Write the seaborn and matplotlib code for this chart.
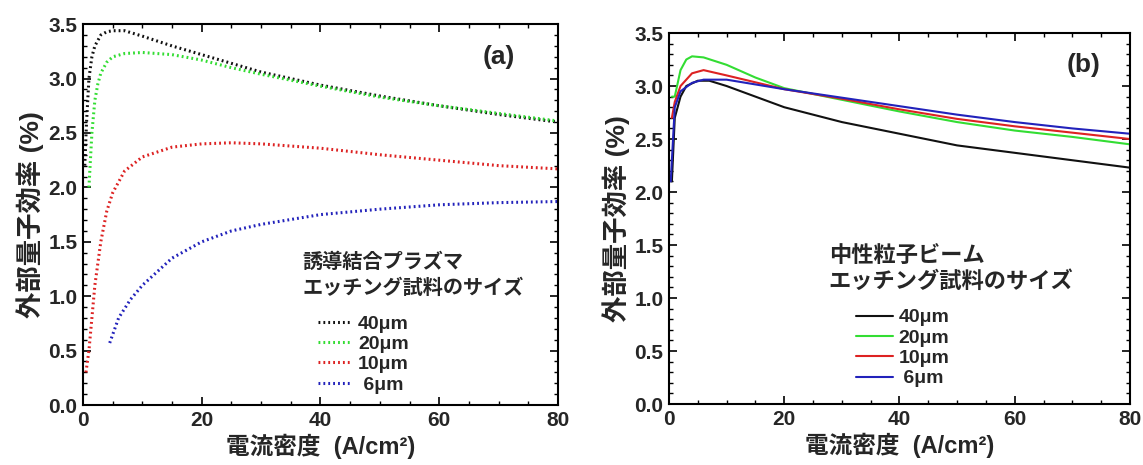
import numpy as np
import pandas as pd
import matplotlib
matplotlib.use("Agg")
import matplotlib.pyplot as plt
import seaborn as sns
from matplotlib.ticker import MultipleLocator
from matplotlib.lines import Line2D

sns.set_theme(style="white")
plt.rcParams['font.family'] = ['Liberation Sans', 'Noto Sans CJK JP', 'DejaVu Sans']
plt.rcParams['font.weight'] = 'bold'

sizes = ["40μm", "20μm", "10μm", "6μm"]
colors = ["#111111", "#33dd33", "#dd2222", "#2222bb"]

# Panel (a): inductively coupled plasma etching
a_x40 = [0.3, 0.6, 1, 1.5, 2, 3, 4, 5, 7, 10, 15, 20, 30, 40, 50, 60, 70, 80]
a_y40 = [2.2, 2.6, 3.0, 3.2, 3.3, 3.4, 3.43, 3.44, 3.44, 3.39, 3.3, 3.22, 3.06, 2.94, 2.84, 2.75, 2.67, 2.6]
a_x20 = [1, 1.5, 2, 2.5, 3, 4, 5, 7, 10, 15, 20, 25, 30, 40, 50, 60, 70, 80]
a_y20 = [2.0, 2.5, 2.8, 2.95, 3.05, 3.15, 3.2, 3.23, 3.24, 3.22, 3.17, 3.1, 3.04, 2.93, 2.83, 2.75, 2.68, 2.61]
a_x10 = [0.5, 1, 1.5, 2, 3, 4, 5, 7, 10, 15, 20, 25, 30, 40, 50, 60, 70, 80]
a_y10 = [0.3, 0.5, 0.8, 1.1, 1.5, 1.78, 1.95, 2.15, 2.28, 2.37, 2.4, 2.41, 2.4, 2.36, 2.3, 2.25, 2.2, 2.17]
a_x6 = [4.5, 6, 8, 10, 15, 20, 25, 30, 40, 50, 60, 70, 80]
a_y6 = [0.57, 0.8, 0.97, 1.1, 1.35, 1.5, 1.6, 1.66, 1.75, 1.8, 1.84, 1.86, 1.87]

# Panel (b): neutral beam etching
b_x40 = [0.5, 1, 2, 3, 5, 7, 10, 20, 30, 40, 50, 60, 70, 80]
b_y40 = [2.1, 2.7, 2.9, 3.0, 3.05, 3.05, 3.0, 2.8, 2.66, 2.55, 2.44, 2.37, 2.3, 2.23]
b_x20 = [0.5, 1, 2, 3, 4, 6, 10, 15, 20, 30, 40, 50, 60, 70, 80]
b_y20 = [2.9, 2.9, 3.15, 3.25, 3.28, 3.27, 3.2, 3.08, 2.98, 2.87, 2.76, 2.66, 2.58, 2.52, 2.45]
b_x10 = [0.5, 1, 2, 4, 6, 10, 20, 30, 40, 50, 60, 70, 80]
b_y10 = [2.7, 2.85, 3.0, 3.12, 3.15, 3.1, 2.97, 2.88, 2.78, 2.69, 2.62, 2.56, 2.5]
b_x6 = [0.3, 0.7, 1, 2, 4, 6, 10, 20, 30, 40, 50, 60, 70, 80]
b_y6 = [2.1, 2.5, 2.8, 2.95, 3.03, 3.06, 3.06, 2.97, 2.89, 2.81, 2.73, 2.66, 2.6, 2.55]

xticks = [0, 20, 40, 60, 80]
yticks = [0.0, 0.5, 1.0, 1.5, 2.0, 2.5, 3.0, 3.5]
legend_title_a = ["誘導結合プラズマ", "エッチング試料のサイズ"]
legend_title_b = ["中性粒子ビーム", "エッチング試料のサイズ"]
xlabel = "電流密度  (A/cm²)"
ylabel = "外部量子効率 (%)"


def long_df(xs, ys):
    frames = []
    for s, x, y in zip(sizes, xs, ys):
        frames.append(pd.DataFrame({"x": x, "y": y, "size": s}))
    return pd.concat(frames, ignore_index=True)


df_a = long_df([a_x40, a_x20, a_x10, a_x6], [a_y40, a_y20, a_y10, a_y6])
df_b = long_df([b_x40, b_x20, b_x10, b_x6], [b_y40, b_y20, b_y10, b_y6])

fig = plt.figure(figsize=(11.43, 4.65), dpi=100)
ax_a = fig.add_axes([0.0726, 0.129, 0.4156, 0.819])
ax_b = fig.add_axes([0.5853, 0.131, 0.4033, 0.798])

dots = (0, (0.6, 1.0))
pal = dict(zip(sizes, colors))
sns.lineplot(data=df_a, x="x", y="y", hue="size", palette=pal, hue_order=sizes,
             ax=ax_a, linewidth=2.2, linestyle=dots, legend=False)
sns.lineplot(data=df_b, x="x", y="y", hue="size", palette=pal, hue_order=sizes,
             ax=ax_b, linewidth=1.5, legend=False)

for ax in (ax_a, ax_b):
    ax.set_xlim(0, 80)
    ax.set_ylim(0, 3.5)
    ax.set_xticks(xticks)
    ax.set_xticklabels([str(t) for t in xticks])
    ax.set_yticks(yticks)
    ax.set_yticklabels([f"{t:.1f}" for t in yticks])
    ax.xaxis.set_minor_locator(MultipleLocator(5))
    ax.yaxis.set_minor_locator(MultipleLocator(0.1))
    ax.tick_params(which="both", direction="in", top=True, right=True,
                   bottom=True, left=True, color="black")
    ax.tick_params(which="major", length=6, width=1.2, labelsize=15, pad=4)
    ax.tick_params(which="minor", length=3, width=1.0)
    for sp in ax.spines.values():
        sp.set_color("black")
        sp.set_linewidth(1.5)
    ax.set_xlabel(xlabel, fontsize=17, fontweight="bold", labelpad=3)
    ax.set_ylabel(ylabel, fontsize=19, fontweight="bold", labelpad=3)
    for lab in ax.get_xticklabels() + ax.get_yticklabels():
        lab.set_fontweight("bold")

ax_a.text(70, 3.2, "(a)", fontsize=19, fontweight="bold", ha="center", va="center")
ax_b.text(72, 3.2, "(b)", fontsize=19, fontweight="bold", ha="center", va="center")

# legend titles
for ax, lines, x0, ys, fs in ((ax_a, legend_title_a, 37, (1.31, 1.07), 14.5),
                              (ax_b, legend_title_b, 27.7, (1.39, 1.15), 16)):
    for t, yy in zip(lines, ys):
        ax.text(x0, yy, t, fontsize=fs, fontweight="bold", ha="left", va="center")

h_a = [Line2D([], [], color=c, linewidth=2.2, linestyle=dots) for c in colors]
h_b = [Line2D([], [], color=c, linewidth=1.5) for c in colors]

labels = [s if len(s) > 3 else " " + s for s in sizes]
ax_a.legend(h_a, labels, loc="lower left", bbox_to_anchor=(0.495, 0.03), frameon=False,
            prop={"size": 14, "weight": "bold"}, handlelength=1.7, handletextpad=0.35,
            labelspacing=0.14, borderaxespad=0, borderpad=0)
ax_b.legend(h_b, labels, loc="lower left", bbox_to_anchor=(0.405, 0.045), frameon=False,
            prop={"size": 14, "weight": "bold"}, handlelength=1.9, handletextpad=0.3,
            labelspacing=0.14, borderaxespad=0, borderpad=0)

fig.savefig("out.png", dpi=100, facecolor="white")
